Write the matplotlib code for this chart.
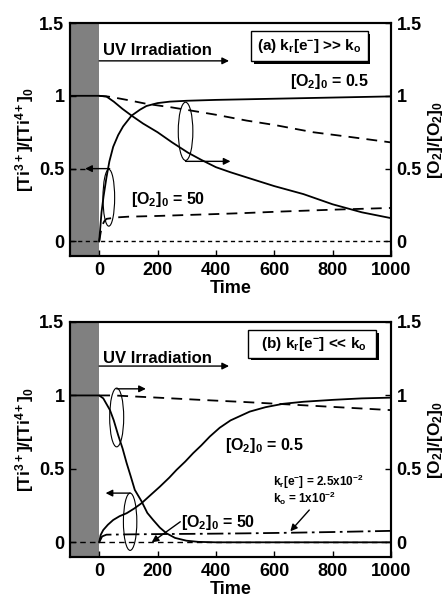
# Kinetics of Ti3+ / O2 under UV irradiation, two regimes
import numpy as np
import matplotlib.pyplot as plt
from matplotlib.patches import Ellipse
import matplotlib.patheffects as pe

plt.rcParams['font.family'] = ['Liberation Sans', 'DejaVu Sans']
plt.rcParams['font.weight'] = 'bold'
plt.rcParams['axes.labelweight'] = 'bold'
plt.rcParams['font.size'] = 12
plt.rcParams['mathtext.fontset'] = 'custom'
plt.rcParams['mathtext.rm'] = 'Liberation Sans:bold'
plt.rcParams['mathtext.it'] = 'Liberation Sans:bold'
plt.rcParams['mathtext.bf'] = 'Liberation Sans:bold'
plt.rcParams['axes.linewidth'] = 1.5
plt.rcParams['xtick.direction'] = 'in'
plt.rcParams['ytick.direction'] = 'in'

# ---------------- data, panel (a) ----------------
t_ti_a05 = [0, 4, 8, 15, 25, 35, 48, 65, 82, 111, 140, 162, 200, 242, 300, 400, 500, 600, 700, 800, 900, 1000]
ti_a05 = [0, 0.1, 0.2, 0.31, 0.44, 0.55, 0.65, 0.73, 0.79, 0.864, 0.905, 0.93, 0.95, 0.96, 0.966, 0.972, 0.976, 0.98, 0.984, 0.988, 0.992, 0.996]

t_o2_a05 = [-100, 0, 25, 50, 80, 111, 150, 200, 250, 304, 350, 400, 450, 505, 600, 700, 800, 900, 1000]
o2_a05 = [1, 1, 0.995, 0.96, 0.91, 0.864, 0.81, 0.75, 0.68, 0.61, 0.56, 0.51, 0.475, 0.44, 0.38, 0.325, 0.255, 0.2, 0.16]

t_o2_a50 = [0, 30, 60, 100, 162, 250, 311, 400, 505, 600, 733, 850, 1000]
o2_a50 = [1, 0.995, 0.985, 0.97, 0.945, 0.92, 0.9, 0.87, 0.83, 0.8, 0.75, 0.72, 0.68]

t_ti_a50 = [0, 5, 10, 18, 25, 60, 100, 200, 276, 400, 500, 620, 800, 1000]
ti_a50 = [0, 0.06, 0.11, 0.14, 0.155, 0.165, 0.17, 0.175, 0.18, 0.188, 0.195, 0.205, 0.218, 0.23]

# ---------------- data, panel (b) ----------------
t_o2_b05 = [-100, 0, 14, 37, 50, 65, 80, 94, 108, 122, 145, 165, 185, 208, 231, 260, 299, 340, 400, 1000]
o2_b05 = [1, 1, 0.98, 0.9, 0.83, 0.73, 0.64, 0.54, 0.45, 0.357, 0.28, 0.2, 0.152, 0.1, 0.061, 0.03, 0.011, 0.003, 0, 0]

t_o2_b50 = [0, 50, 100, 200, 345, 500, 665, 800, 1000]
o2_b50 = [1, 1, 0.995, 0.985, 0.97, 0.955, 0.937, 0.922, 0.90]

t_ti_b05 = [0, 5, 14, 30, 48, 70, 94, 120, 145, 175, 208, 240, 265, 295, 322, 350, 379, 413, 450, 516, 570, 630, 700, 801, 900, 1000]
ti_b05 = [0, 0.05, 0.084, 0.12, 0.152, 0.178, 0.198, 0.23, 0.266, 0.32, 0.379, 0.44, 0.493, 0.55, 0.607, 0.66, 0.72, 0.78, 0.83, 0.89, 0.92, 0.943, 0.957, 0.97, 0.98, 0.985]

t_ti_b_k = [0, 10, 25, 100, 200, 350, 500, 650, 800, 1000]
ti_b_k = [0, 0.04, 0.052, 0.054, 0.056, 0.058, 0.061, 0.065, 0.07, 0.078]

t_base = [-100, 1000]
base = [0, 0]

xticks = [0, 200, 400, 600, 800, 1000]
yticks = [0, 0.5, 1, 1.5]
yticklabels = ['0', '0.5', '1', '1.5']

dash = (6, 4)
lw = 1.3


def setup(ax):
    ax.set_xlim(-100, 1000)
    ax.set_ylim(-0.1, 1.5)
    ax.axvspan(-100, 0, color='0.5', lw=0, zorder=0)
    ax.set_xticks(xticks)
    ax.set_yticks(yticks)
    ax.set_yticklabels(yticklabels)
    ax.tick_params(length=4, width=1, pad=4, labelsize=13)
    ax.set_xlabel('Time', labelpad=1, fontsize=13)
    ax.set_ylabel('[Ti$^{3+}$]/[Ti$^{4+}$]$_0$', labelpad=2, fontsize=12.5)
    axr = ax.twinx()
    axr.set_ylim(-0.1, 1.5)
    axr.set_yticks(yticks)
    axr.set_yticklabels(yticklabels)
    axr.tick_params(length=4, width=1, pad=4, labelsize=13)
    axr.set_ylabel('[O$_2$]/[O$_2$]$_0$', labelpad=3, fontsize=12.5)
    return axr


def arrow(ax, x0, y0, x1, y1):
    ax.annotate('', xy=(x1, y1), xytext=(x0, y0),
                arrowprops=dict(arrowstyle='-|>', color='k', lw=1, mutation_scale=10,
                                shrinkA=0, shrinkB=0))


def boxed(ax, x, y, s, pad):
    t = ax.text(x, y, s, ha='center', va='center', fontsize=11,
                bbox=dict(boxstyle='square,pad=%s' % pad, fc='white', ec='k', lw=1))
    t.get_bbox_patch().set_path_effects([
        pe.SimplePatchShadow(offset=(2, -2), shadow_rgbFace='k', alpha=1), pe.Normal()])


fig = plt.figure(figsize=(4.48, 5.97), dpi=100)
ax1 = fig.add_axes([70/448, 1-256/597, 321/448, 233/597])
ax2 = fig.add_axes([70/448, 1-557/597, 321/448, 235/597])

# ---------- panel (a) ----------
setup(ax1)
ax1.plot(t_base, base, color='k', lw=1, dashes=(3, 2.5))
ax1.plot(t_o2_a05, o2_a05, color='k', lw=lw)
ax1.plot(t_ti_a05, ti_a05, color='k', lw=lw)
ax1.plot(t_o2_a50, o2_a50, color='k', lw=lw, dashes=dash)
ax1.plot(t_ti_a50, ti_a50, color='k', lw=lw, dashes=dash)

ax1.text(13, 1.31, 'UV Irradiation', fontsize=12, va='center')
arrow(ax1, 0, 1.24, 445, 1.24)
boxed(ax1, 720, 1.34, '(a) k$_r$[e$^{-}$] >> k$_o$', 0.4)
ax1.text(925, 1.095, '[O$_2$]$_0$ = 0.5', ha='right', va='center', fontsize=11.5)
ax1.text(235, 0.285, '[O$_2$]$_0$ = 50', ha='center', va='center', fontsize=11.5)

ax1.add_patch(Ellipse((33, 0.3), 40, 0.39, fill=False, lw=0.8))
arrow(ax1, 36, 0.5, -48, 0.5)
ax1.plot([-100, -50], [0.5, 0.5], color='k', lw=1, dashes=(4, 3))
ax1.add_patch(Ellipse((296, 0.756), 50, 0.40, fill=False, lw=0.8))
arrow(ax1, 296, 0.55, 450, 0.55)

# ---------- panel (b) ----------
setup(ax2)
ax2.plot(t_base, base, color='k', lw=1, dashes=(4, 3))
ax2.plot(t_o2_b05, o2_b05, color='k', lw=lw)
ax2.plot(t_ti_b05, ti_b05, color='k', lw=lw)
ax2.plot(t_o2_b50, o2_b50, color='k', lw=lw, dashes=dash)
ax2.plot(t_ti_b_k, ti_b_k, color='k', lw=lw, dashes=(9, 2.5, 1.5, 2.5))

ax2.text(13, 1.25, 'UV Irradiation', fontsize=12, va='center')
arrow(ax2, 0, 1.2, 445, 1.2)
boxed(ax2, 730, 1.35, '  (b) k$_r$[e$^{-}$] << k$_o$  ', 0.3)
ax2.text(430, 0.657, '[O$_2$]$_0$ = 0.5', ha='left', va='center', fontsize=11.5)
ax2.text(282, 0.138, '[O$_2$]$_0$ = 50', ha='left', va='center', fontsize=11.5)
arrow(ax2, 278, 0.14, 180, 0.0)
ax2.text(595, 0.41, 'k$_r$[e$^{-}$] = 2.5x10$^{-2}$', ha='left', va='center', fontsize=8.5)
ax2.text(595, 0.30, 'k$_o$ = 1x10$^{-2}$', ha='left', va='center', fontsize=8.5)
arrow(ax2, 720, 0.22, 655, 0.075)

ax2.add_patch(Ellipse((60, 0.85), 48, 0.40, fill=False, lw=0.8))
arrow(ax2, 60, 1.045, 160, 1.045)
ax2.add_patch(Ellipse((106, 0.14), 46, 0.39, fill=False, lw=0.8))
arrow(ax2, 106, 0.335, 22, 0.335)

fig.savefig('out.png', dpi=100)
